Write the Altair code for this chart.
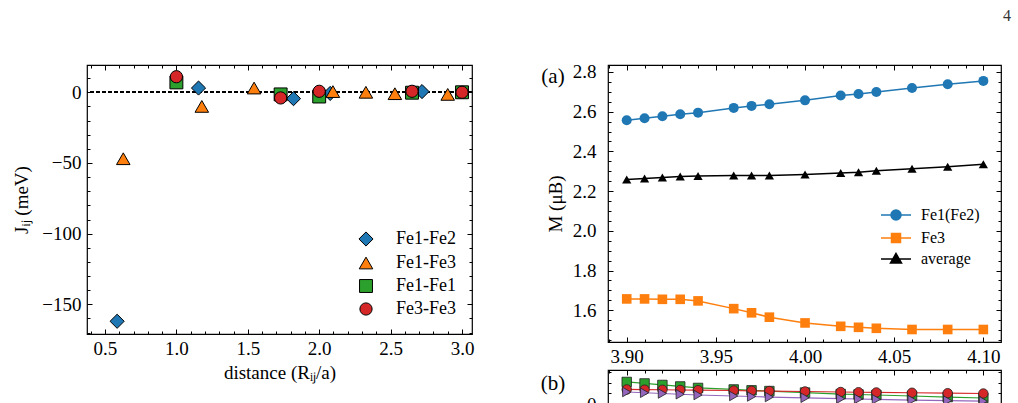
import altair as alt
import pandas as pd

FONT = "Liberation Serif"

# ---------------- left panel: exchange couplings ----------------
pairs = ["Fe1-Fe2", "Fe1-Fe3", "Fe1-Fe1", "Fe3-Fe3"]
pair_colors = ["#1f77b4", "#ff7f0e", "#2ca02c", "#d62728"]
pair_shapes = ["diamond", "triangle-up", "square", "circle"]
pair_sizes = [200, 150, 121, 144]

fe12_d = [0.585, 1.155, 1.82, 2.077, 2.72]
fe12_j = [-162, 3, -4.5, -0.8, 0.5]
fe13_d = [0.628, 1.178, 1.544, 2.096, 2.327, 2.53, 2.90]
fe13_j = [-47, -10, 3, 0.5, 0, -1, -1.5]
fe11_d = [1.0, 1.73, 2.0, 2.65, 3.0]
fe11_j = [7, -1.5, -3, -0.3, 0]
fe33_d = [1.0, 1.73, 2.0, 2.65, 3.0]
fe33_j = [11, -4, 0.7, 0.7, 0]

left_x_major = [0.5, 1.0, 1.5, 2.0, 2.5, 3.0]
left_x_minor = [round(0.4 + 0.1 * i, 1) for i in range(27)]
left_y_major = [-150, -100, -50, 0]
left_y_minor = list(range(-170, 20, 10))

# ---------------- right panel (a): moments ----------------
lat = [3.90, 3.91, 3.92, 3.93, 3.94, 3.96, 3.97, 3.98, 4.00, 4.02, 4.03, 4.04, 4.06, 4.08, 4.10]
m_fe12 = [2.557, 2.567, 2.577, 2.587, 2.595, 2.619, 2.629, 2.637, 2.657, 2.681, 2.689, 2.699, 2.719, 2.738, 2.755]
m_fe3 = [1.657, 1.657, 1.655, 1.655, 1.647, 1.608, 1.587, 1.565, 1.536, 1.519, 1.514, 1.509, 1.503, 1.503, 1.503]
m_avg = [2.258, 2.263, 2.268, 2.273, 2.276, 2.278, 2.278, 2.278, 2.283, 2.291, 2.295, 2.302, 2.312, 2.323, 2.335]
m_series = ["Fe1(Fe2)", "Fe3", "average"]
m_colors = ["#1f77b4", "#ff7f0e", "black"]
m_shapes = ["circle", "square", "triangle-up"]
m_sizes = [100, 85, 115]
# legend glyphs: a short line with the marker in its middle
m_legend_paths = [
    "M-3,0L3,0M1,0A1,1,0,1,1,-1,0A1,1,0,1,1,1,0Z",
    "M-3,0L3,0M-0.9,-0.9L0.9,-0.9L0.9,0.9L-0.9,0.9Z",
    "M-3,0L3,0M0,-1.1L-1.1,0.8L1.1,0.8Z",
]

a_x_major = [3.90, 3.95, 4.00, 4.05, 4.10]
a_x_minor = [round(3.89 + 0.01 * i, 2) for i in range(23)]
a_y_major = [1.6, 1.8, 2.0, 2.2, 2.4, 2.6, 2.8]
a_y_minor = [round(1.45 + 0.05 * i, 2) for i in range(28)]

# ---------------- right panel (b) ----------------
b_green = [0.206, 0.192, 0.178, 0.164, 0.150, 0.136, 0.128, 0.121, 0.107, 0.093, 0.089, 0.084, 0.075, 0.065, 0.056]
b_red = [0.136, 0.134, 0.133, 0.131, 0.129, 0.126, 0.123, 0.121, 0.117, 0.112, 0.110, 0.108, 0.105, 0.101, 0.098]
b_purple = [0.112, 0.105, 0.098, 0.091, 0.084, 0.075, 0.070, 0.065, 0.058, 0.050, 0.047, 0.044, 0.037, 0.032, 0.026]
b_series = ["s1", "s2", "s3"]
b_colors = ["#2ca02c", "#d62728", "#9467bd"]
b_shapes = ["square", "circle", "triangle-right"]
b_y_major = [0]
b_y_minor = [-0.1, 0, 0.1, 0.2, 0.3]

MAJ, MIN = 5, 3


def ax_def(values, orient, size, labels=False, title=None, fmt=None, pad=5, tpad=5):
    kw = dict(values=values, orient=orient, tickSize=size, offset=-size,
              labels=labels, title=title, domain=False, grid=False)
    if labels:
        kw["labelPadding"] = pad
        if fmt:
            kw["format"] = fmt
    if title is not None:
        kw["titlePadding"] = tpad
    return alt.Axis(**kw)


def frame_layers(df, xf, yf, xs, ys, xmaj, xmin, ymaj, ymin):
    """invisible layers that only carry the inward minor ticks and the mirrored top/right ticks"""
    out = []
    for xo, yo, xv, yv, sz in [("bottom", "left", xmin, ymin, MIN),
                               ("top", "right", xmaj, ymaj, MAJ),
                               ("top", "right", xmin, ymin, MIN)]:
        out.append(alt.Chart(df).mark_point(opacity=0).encode(
            x=alt.X(xf, scale=xs, axis=ax_def(xv, xo, sz)),
            y=alt.Y(yf, scale=ys, axis=ax_def(yv, yo, sz)),
        ))
    return out


# ---- left chart ----
rows = []
for name, ds, js in [("Fe1-Fe2", fe12_d, fe12_j), ("Fe1-Fe3", fe13_d, fe13_j),
                     ("Fe1-Fe1", fe11_d, fe11_j), ("Fe3-Fe3", fe33_d, fe33_j)]:
    for d, j in zip(ds, js):
        rows.append({"d": d, "J": j, "pair": name})
left_df = pd.DataFrame(rows)

lx = alt.Scale(domain=[0.374, 3.07], nice=False, zero=False)
ly = alt.Scale(domain=[-171, 19.3], nice=False, zero=False)

left_leg = alt.Legend(title=None, orient="none", legendX=270, legendY=165,
                      symbolSize=150, symbolStrokeColor="black", symbolStrokeWidth=1,
                      labelOffset=21, rowPadding=5, padding=0, labelFontSize=18)
zero_rule = alt.Chart(left_df).mark_rule(color="black", strokeDash=[4, 2], strokeWidth=0.8).encode(
    y=alt.YDatum(0, scale=ly, axis=None)
)
left_pts = alt.Chart(left_df).mark_point(filled=True, opacity=1, stroke="black", strokeWidth=1).encode(
    x=alt.X("d:Q", scale=lx, axis=ax_def(left_x_major, "bottom", MAJ, True, "distance (Rᵢⱼ/a)", ".1f", pad=5, tpad=5)),
    y=alt.Y("J:Q", scale=ly, axis=ax_def(left_y_major, "left", MAJ, True, "Jᵢⱼ (meV)", "d", pad=6, tpad=10)),
    color=alt.Color("pair:N", scale=alt.Scale(domain=pairs, range=pair_colors), legend=left_leg),
    shape=alt.Shape("pair:N", scale=alt.Scale(domain=pairs, range=pair_shapes), legend=left_leg),
    size=alt.Size("pair:N", scale=alt.Scale(domain=pairs, range=pair_sizes), legend=None),
)
left = alt.layer(zero_rule, left_pts,
                 *frame_layers(left_df, "d:Q", "J:Q", lx, ly, left_x_major, left_x_minor, left_y_major, left_y_minor)
                 ).resolve_axis(x="independent", y="independent").properties(width=385, height=269)

# ---- panel (a) ----
rows = []
for name, vals in zip(m_series, [m_fe12, m_fe3, m_avg]):
    for xv, yv in zip(lat, vals):
        rows.append({"a": xv, "M": yv, "s": name})
a_df = pd.DataFrame(rows)

ax = alt.Scale(domain=[3.8895, 4.1099], nice=False, zero=False)
ay = alt.Scale(domain=[1.44, 2.835], nice=False, zero=False)
mcol = alt.Scale(domain=m_series, range=m_colors)

a_lines = alt.Chart(a_df).mark_line(strokeWidth=1.5).encode(
    x=alt.X("a:Q", scale=ax, axis=ax_def(a_x_major, "bottom", MAJ, True, None, ".2f", pad=5)),
    y=alt.Y("M:Q", scale=ay, axis=ax_def(a_y_major, "left", MAJ, True, "M (μB)", ".1f", pad=12, tpad=7)),
    color=alt.Color("s:N", scale=mcol, legend=None),
    detail="s:N",
)
a_pts = alt.Chart(a_df).mark_point(filled=True, opacity=1).encode(
    x=alt.X("a:Q", scale=ax, axis=None),
    y=alt.Y("M:Q", scale=ay, axis=None),
    color=alt.Color("s:N", scale=mcol, legend=None),
    shape=alt.Shape("s:N", scale=alt.Scale(domain=m_series, range=m_shapes), legend=None),
    size=alt.Size("s:N", scale=alt.Scale(domain=m_series, range=m_sizes), legend=None),
)
# one single-entry legend per series, so each glyph can carry its own line colour
a_legend_layers = []
for i, name in enumerate(m_series):
    leg = alt.Legend(title=None, orient="none", legendX=280, legendY=142 + [0, 23, 44][i],
                     symbolType=m_legend_paths[i], symbolSize=100, symbolOpacity=1,
                     symbolStrokeColor=m_colors[i], symbolStrokeWidth=1.5,
                     labelOffset=17, padding=0, labelFontSize=16)
    a_legend_layers.append(
        alt.Chart(a_df[a_df["s"] == name]).mark_point(filled=True, opacity=0).encode(
            x=alt.X("a:Q", scale=ax, axis=None),
            y=alt.Y("M:Q", scale=ay, axis=None),
            color=alt.Color("s:N", scale=alt.Scale(domain=[name], range=[m_colors[i]]), legend=leg),
        )
    )
a_label = alt.Chart(pd.DataFrame({"t": ["(a)"]})).mark_text(
    font=FONT, fontSize=21, align="center", baseline="middle", color="black").encode(
    text="t:N", x=alt.value(-55), y=alt.value(12))
page_no = alt.Chart(pd.DataFrame({"t": ["4"]})).mark_text(
    font=FONT, fontSize=16, align="center", baseline="middle", color="#333").encode(
    text="t:N", x=alt.value(399), y=alt.value(-49))
panel_a = alt.layer(a_lines, a_pts, *a_legend_layers,
                    *frame_layers(a_df, "a:Q", "M:Q", ax, ay, a_x_major, a_x_minor, a_y_major, a_y_minor),
                    a_label, page_no).resolve_axis(
    x="independent", y="independent").resolve_scale(
    shape="independent", color="independent").properties(width=393, height=277)

# ---- panel (b) ----
rows = []
for name, vals in zip(b_series, [b_green, b_red, b_purple]):
    for xv, yv in zip(lat, vals):
        rows.append({"a": xv, "v": yv, "s": name})
b_df = pd.DataFrame(rows)
by = alt.Scale(domain=[-0.1495, 0.3178], nice=False, zero=False)
bcol = alt.Scale(domain=b_series, range=b_colors)

b_zero = alt.Chart(b_df).mark_rule(color="#555", strokeDash=[4, 2], strokeWidth=1).encode(
    y=alt.YDatum(0, scale=by, axis=None))
b_lines = alt.Chart(b_df).mark_line(strokeWidth=1.2).encode(
    x=alt.X("a:Q", scale=ax, axis=ax_def(a_x_major, "bottom", MAJ, True, None, ".2f", pad=5)),
    y=alt.Y("v:Q", scale=by, axis=ax_def(b_y_major, "left", MAJ, True, None, "d", pad=12)),
    color=alt.Color("s:N", scale=bcol, legend=None),
    detail="s:N",
)
b_pts = alt.Chart(b_df).mark_point(filled=True, opacity=1, stroke="#222", strokeWidth=0.8, size=90).encode(
    x=alt.X("a:Q", scale=ax, axis=None),
    y=alt.Y("v:Q", scale=by, axis=None),
    color=alt.Color("s:N", scale=bcol, legend=None),
    shape=alt.Shape("s:N", scale=alt.Scale(domain=b_series, range=b_shapes), legend=None),
)
b_label = alt.Chart(pd.DataFrame({"t": ["(b)"]})).mark_text(
    font=FONT, fontSize=21, align="center", baseline="middle", color="black").encode(
    text="t:N", x=alt.value(-55), y=alt.value(14))
panel_b = alt.layer(b_zero, b_lines, b_pts,
                    *frame_layers(b_df, "a:Q", "v:Q", ax, by, a_x_major, a_x_minor, b_y_major, b_y_minor),
                    b_label).resolve_axis(x="independent", y="independent").properties(width=393, height=50)

indep = dict(color="independent", shape="independent", size="independent")
right = alt.vconcat(panel_a, panel_b, spacing=28, bounds="flush").resolve_scale(**indep)

chart = alt.hconcat(left, right, spacing=136, bounds="flush").resolve_scale(**indep).properties(
    padding={"left": 12, "top": 7, "right": 0, "bottom": 0}
).configure_axis(
    labelFont=FONT, labelFontSize=19, labelColor="black",
    titleFont=FONT, titleFontSize=19, titleFontWeight="normal", titleColor="black",
    tickColor="black", tickWidth=1,
).configure_legend(
    labelFont=FONT, labelColor="black",
).configure_view(stroke="black", strokeWidth=1.2)

chart.save("out.html", embed_options={"renderer": "svg", "actions": False})
